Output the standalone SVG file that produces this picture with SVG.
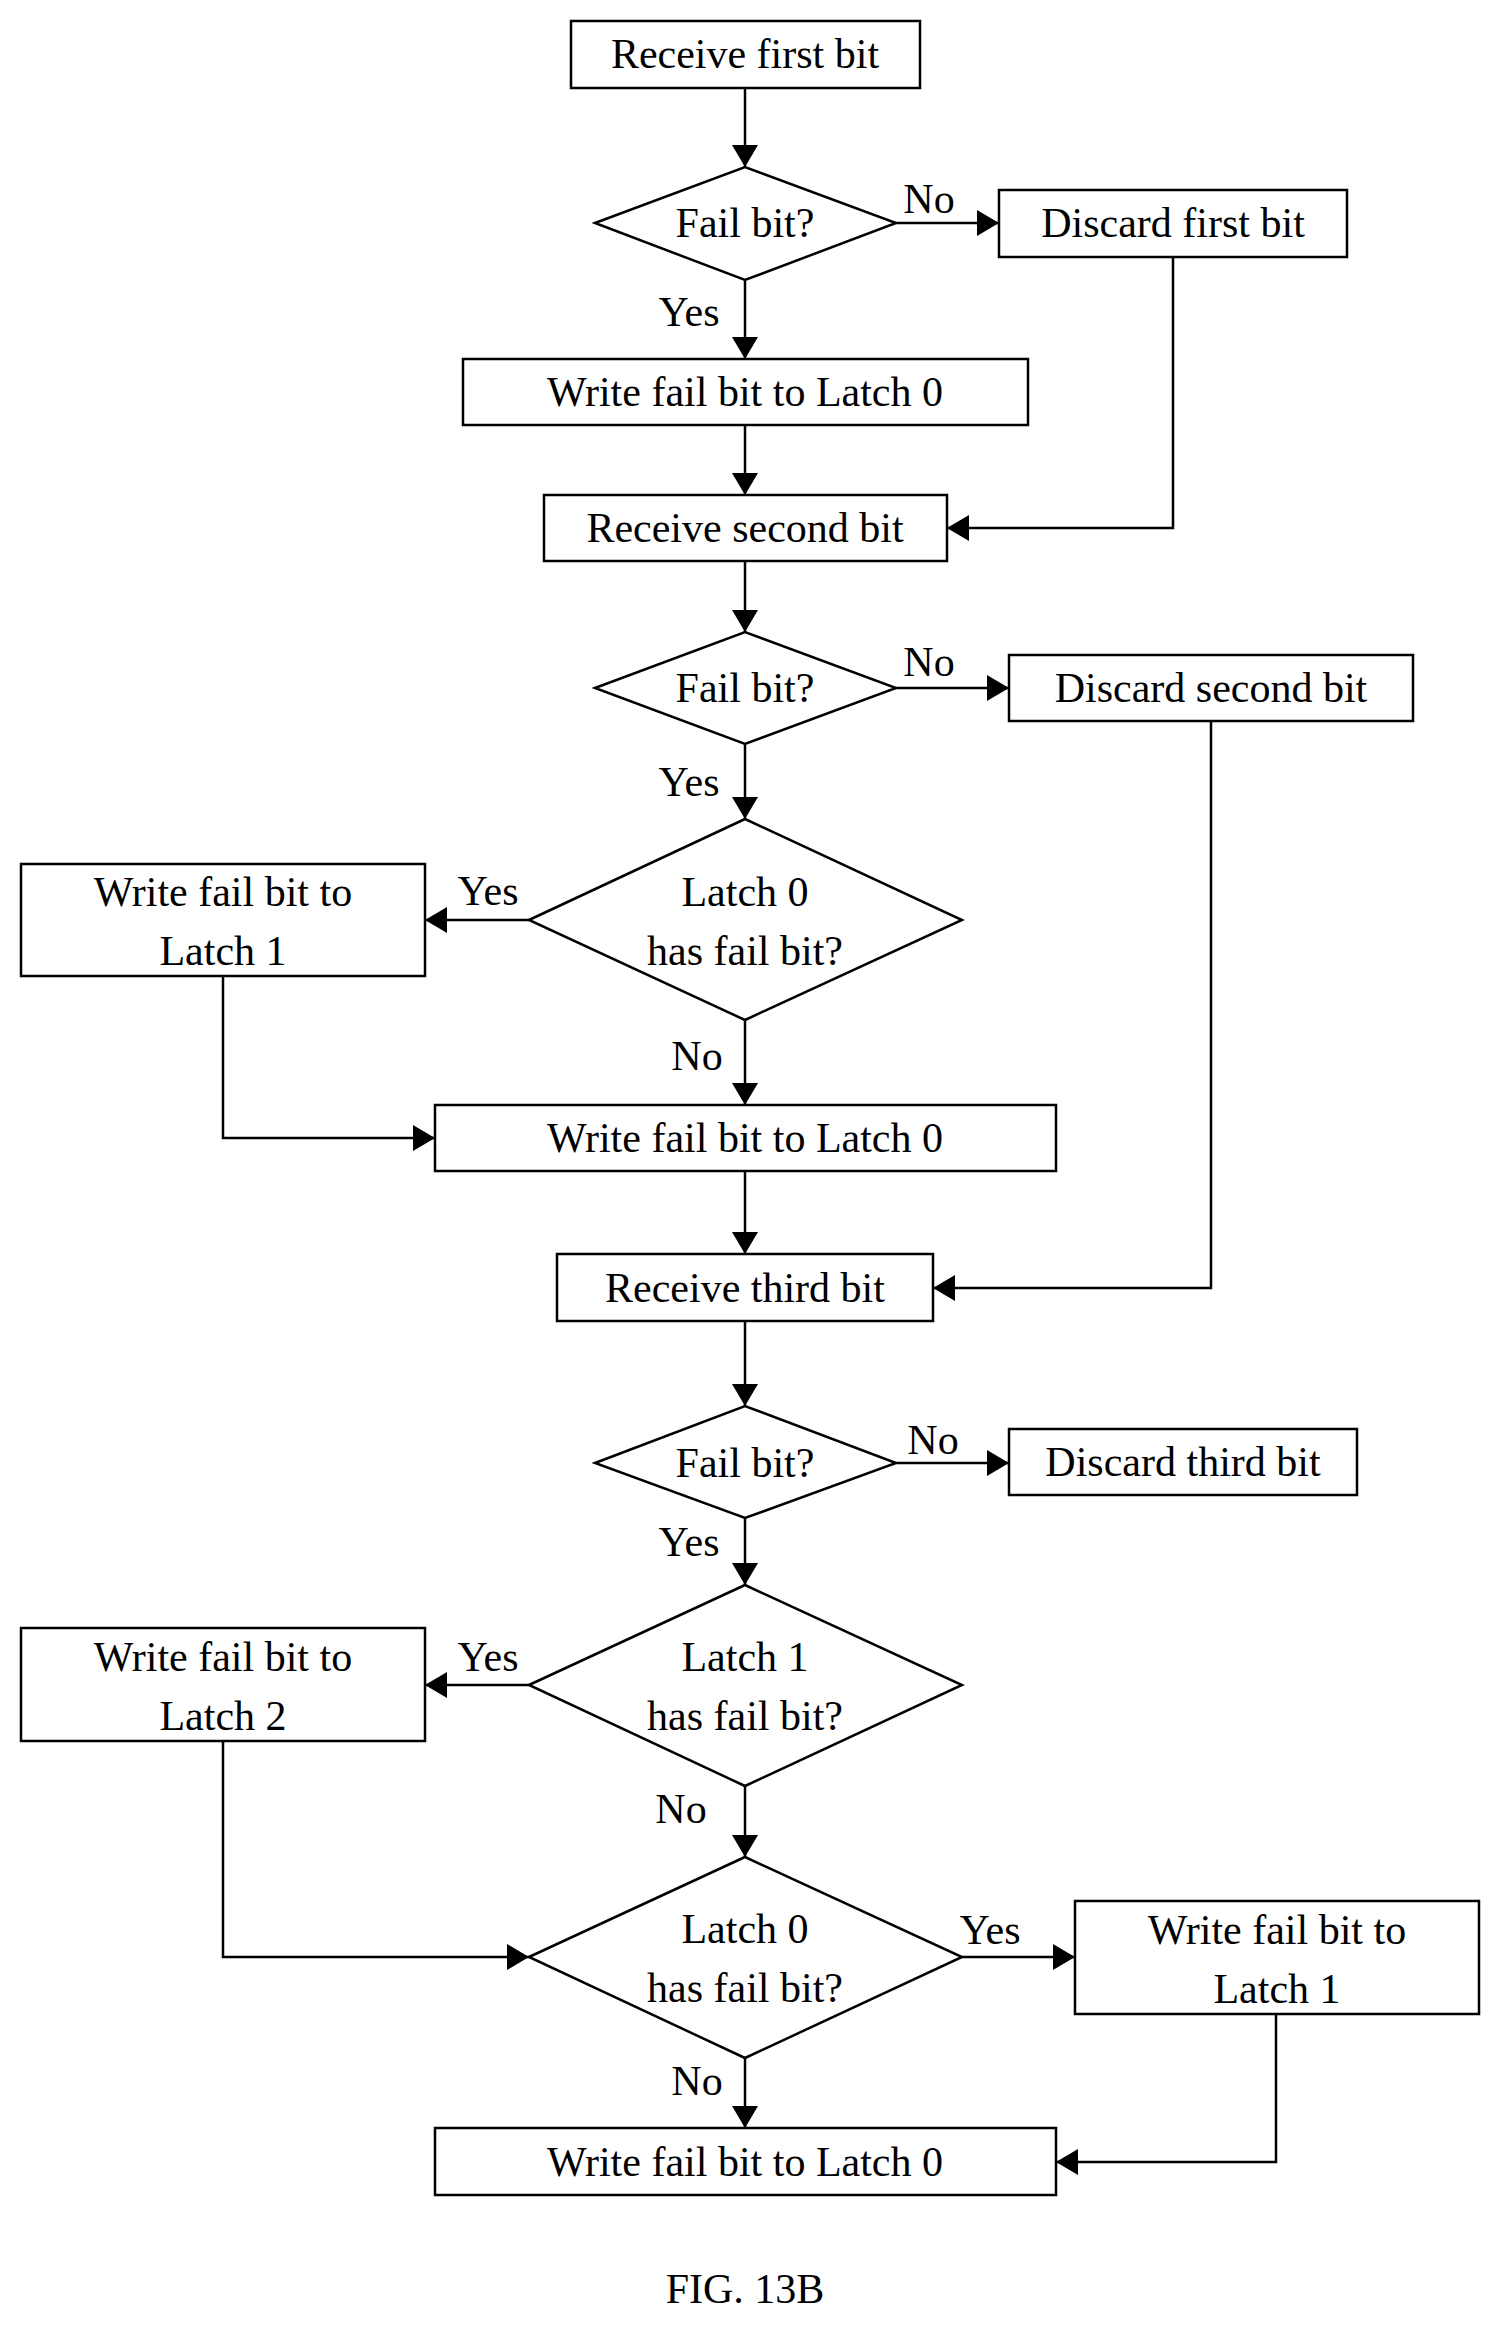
<svg xmlns="http://www.w3.org/2000/svg" width="1500" height="2325" viewBox="0 0 1500 2325">
<style>
.n rect,.n polygon{fill:#fff;stroke:#000;stroke-width:2.5}
text{font-family:"Liberation Serif","Times New Roman",serif;font-size:42px;fill:#000;text-anchor:middle}
.c path{fill:none;stroke:#000;stroke-width:2.5}
</style>
<defs>
<marker id="a" markerUnits="userSpaceOnUse" markerWidth="24" markerHeight="26" refX="22" refY="13" orient="auto"><path d="M0,0 L22,13 L0,26 Z" fill="#000"/></marker>
</defs>
<g class="c">
<path d="M745,88 V167" marker-end="url(#a)"/>
<path d="M896,223 H999" marker-end="url(#a)"/>
<path d="M745,280 V359" marker-end="url(#a)"/>
<path d="M745,425 V495" marker-end="url(#a)"/>
<path d="M1173,257 V528 H947" marker-end="url(#a)"/>
<path d="M745,561 V632" marker-end="url(#a)"/>
<path d="M896,688 H1009" marker-end="url(#a)"/>
<path d="M745,744 V819" marker-end="url(#a)"/>
<path d="M529,920 H425" marker-end="url(#a)"/>
<path d="M745,1020 V1105" marker-end="url(#a)"/>
<path d="M223,976 V1138 H435" marker-end="url(#a)"/>
<path d="M745,1171 V1254" marker-end="url(#a)"/>
<path d="M1211,721 V1288 H933" marker-end="url(#a)"/>
<path d="M745,1321 V1406" marker-end="url(#a)"/>
<path d="M896,1463 H1009" marker-end="url(#a)"/>
<path d="M745,1518 V1585" marker-end="url(#a)"/>
<path d="M529,1685 H425" marker-end="url(#a)"/>
<path d="M745,1786 V1857" marker-end="url(#a)"/>
<path d="M223,1741 V1957 H529" marker-end="url(#a)"/>
<path d="M962,1957 H1075" marker-end="url(#a)"/>
<path d="M745,2058 V2128" marker-end="url(#a)"/>
<path d="M1276,2014 V2162 H1056" marker-end="url(#a)"/>
</g>
<g id="labels">
<text x="929" y="213">No</text><text x="689" y="326">Yes</text>
<text x="929" y="676">No</text><text x="689" y="796">Yes</text>
<text x="488" y="905">Yes</text><text x="697" y="1070">No</text>
<text x="933" y="1454">No</text><text x="689" y="1556">Yes</text>
<text x="488" y="1671">Yes</text><text x="681" y="1823">No</text>
<text x="990" y="1944">Yes</text><text x="697" y="2095">No</text>
</g>
<g id="n1" class="n"><rect x="571" y="21" width="349" height="67"/><text x="745" y="68">Receive first bit</text></g>
<g id="n2" class="n"><polygon points="595,223 745,167 896,223 745,280"/><text x="745" y="237">Fail bit?</text></g>
<g id="n3" class="n"><rect x="999" y="190" width="348" height="67"/><text x="1173" y="237">Discard first bit</text></g>
<g id="n4" class="n"><rect x="463" y="359" width="565" height="66"/><text x="745" y="406">Write fail bit to Latch 0</text></g>
<g id="n5" class="n"><rect x="544" y="495" width="403" height="66"/><text x="745" y="542">Receive second bit</text></g>
<g id="n6" class="n"><polygon points="595,688 745,632 896,688 745,744"/><text x="745" y="702">Fail bit?</text></g>
<g id="n7" class="n"><rect x="1009" y="655" width="404" height="66"/><text x="1211" y="702">Discard second bit</text></g>
<g id="n8" class="n"><polygon points="529,920 745,819 962,920 745,1020"/><text x="745" y="906">Latch 0</text><text x="745" y="965">has fail bit?</text></g>
<g id="n9" class="n"><rect x="21" y="864" width="404" height="112"/><text x="223" y="906">Write fail bit to</text><text x="223" y="965">Latch 1</text></g>
<g id="n10" class="n"><rect x="435" y="1105" width="621" height="66"/><text x="745" y="1152">Write fail bit to Latch 0</text></g>
<g id="n11" class="n"><rect x="557" y="1254" width="376" height="67"/><text x="745" y="1302">Receive third bit</text></g>
<g id="n12" class="n"><polygon points="595,1463 745,1406 896,1463 745,1518"/><text x="745" y="1477">Fail bit?</text></g>
<g id="n13" class="n"><rect x="1009" y="1429" width="348" height="66"/><text x="1183" y="1476">Discard third bit</text></g>
<g id="n14" class="n"><polygon points="529,1685 745,1585 962,1685 745,1786"/><text x="745" y="1671">Latch 1</text><text x="745" y="1730">has fail bit?</text></g>
<g id="n15" class="n"><rect x="21" y="1628" width="404" height="113"/><text x="223" y="1671">Write fail bit to</text><text x="223" y="1730">Latch 2</text></g>
<g id="n16" class="n"><polygon points="529,1957 745,1857 962,1957 745,2058"/><text x="745" y="1943">Latch 0</text><text x="745" y="2002">has fail bit?</text></g>
<g id="n17" class="n"><rect x="1075" y="1901" width="404" height="113"/><text x="1277" y="1944">Write fail bit to</text><text x="1277" y="2003">Latch 1</text></g>
<g id="n18" class="n"><rect x="435" y="2128" width="621" height="67"/><text x="745" y="2176">Write fail bit to Latch 0</text></g>
<text x="745" y="2303">FIG. 13B</text>
</svg>
